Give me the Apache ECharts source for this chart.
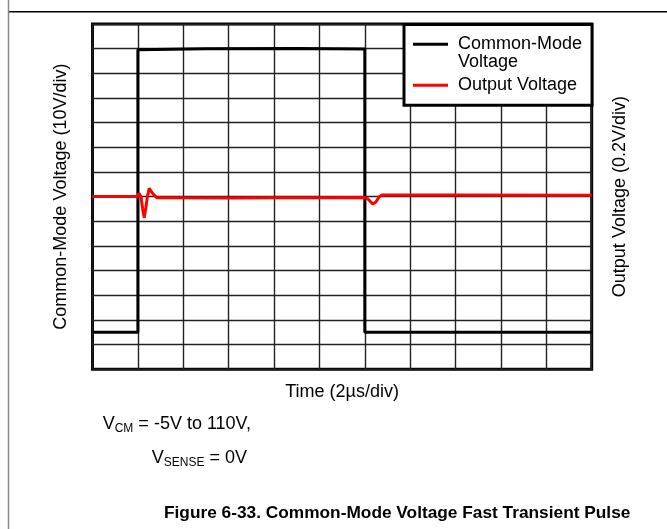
<!DOCTYPE html>
<html><head><meta charset="utf-8">
<script src="https://cdn.jsdelivr.net/npm/echarts@6/dist/echarts.min.js"></script>
<style>html,body{margin:0;padding:0;background:#fff}#c{width:667px;height:529px}</style>
</head><body><div id="c"></div>
<script>
// Common-mode voltage (left axis, V) vs time (µs)
const cmTimeUs = [0, 2, 2, 5, 9, 12, 12, 22];
const cmVolts  = [-5, -5, 109.6, 110, 110.1, 109.9, -5, -5];
// Output voltage (right axis, V) vs time (µs)
const outTimeUs = [0, 2.0, 2.05, 2.14, 2.21, 2.28, 2.35, 2.42, 2.50, 2.62, 2.83, 4, 6, 8, 10, 12.0, 12.05, 12.14, 12.35, 12.49, 12.63, 12.75, 16, 22];
const outVolts  = [0, 0, 0.027, -0.003, -0.10, -0.171, -0.09, 0.0, 0.067, 0.033, -0.009, -0.010, -0.011, -0.010, -0.009, -0.008, -0.007, -0.019, -0.060, -0.044, -0.003, 0.013, 0.012, 0.011];
// Axis scales (divisions)
const timeAxis = {min: 0, max: 22, step: 2};
const cmAxis = {min: -20, max: 120, step: 10};
const outAxis = {min: -1.4, max: 1.4, step: 0.2};
const seriesNames = ['Common-Mode Voltage', 'Output Voltage'];

const FONT = "'Liberation Sans', Arial, sans-serif";
const zip = (a, b) => a.map((v, i) => [v, b[i]]);

const chart = echarts.init(document.getElementById('c'), null, {renderer: 'canvas'});
chart.setOption({
  animation: false,
  backgroundColor: '#fff',
  textStyle: {fontFamily: FONT},
  grid: {left: 92.5, top: 24, right: 75.3, bottom: 159.8, show: true, borderColor: '#000', borderWidth: 3, backgroundColor: 'transparent'},
  xAxis: {
    type: 'value', min: timeAxis.min, max: timeAxis.max, interval: timeAxis.step,
    axisLabel: {show: false}, axisTick: {show: false}, axisLine: {show: false},
    splitLine: {show: true, lineStyle: {color: '#222', width: 1.4}},
    name: 'Time (2µs/div)', nameLocation: 'middle', nameGap: 14,
    nameTextStyle: {fontSize: 18, color: '#000', fontFamily: FONT}
  },
  yAxis: [{
    type: 'value', min: cmAxis.min, max: cmAxis.max, interval: cmAxis.step, position: 'left',
    axisLabel: {show: false}, axisTick: {show: false}, axisLine: {show: false},
    splitLine: {show: true, lineStyle: {color: '#222', width: 1.4}},
    name: 'Common-Mode Voltage (10V/div)', nameLocation: 'middle', nameGap: 22.5, nameRotate: 90,
    nameTextStyle: {fontSize: 18, color: '#000', fontFamily: FONT}
  }, {
    type: 'value', min: outAxis.min, max: outAxis.max, interval: outAxis.step, position: 'right',
    axisLabel: {show: false}, axisTick: {show: false}, axisLine: {show: false},
    splitLine: {show: false},
    name: 'Output Voltage (0.2V/div)', nameLocation: 'middle', nameGap: 19.5, nameRotate: 90,
    nameTextStyle: {fontSize: 18, color: '#000', fontFamily: FONT}
  }],
  legend: {
    orient: 'vertical', left: 404, top: 24.5,
    padding: [-7.2, 10, 11, 9], itemGap: 5,
    backgroundColor: '#fff', borderColor: '#000', borderWidth: 3,
    icon: 'rect', itemWidth: 35, itemHeight: 3,
    textStyle: {fontSize: 18, lineHeight: 18, color: '#000', fontFamily: FONT, padding: [0, 0, 0, 5]},
    formatter: n => n === seriesNames[0] ? '\nCommon-Mode\nVoltage' : n,
    data: [seriesNames[0], seriesNames[1]]
  },
  title: [{
    text: '{v|V}{s|CM}{v| = -5V to 110V,}', left: 102.7, top: 413, padding: 0,
    textStyle: {fontWeight: 'normal', fontSize: 18, fontFamily: FONT, color: '#000',
      rich: {v: {fontSize: 18, lineHeight: 22, fontFamily: FONT, color: '#000'},
             s: {fontSize: 12, lineHeight: 12, verticalAlign: 'bottom', fontFamily: FONT, color: '#000'}}}
  }, {
    text: '{v|V}{s|SENSE}{v| = 0V}', left: 151.7, top: 447, padding: 0,
    textStyle: {fontWeight: 'normal', fontSize: 18, fontFamily: FONT, color: '#000',
      rich: {v: {fontSize: 18, lineHeight: 22, fontFamily: FONT, color: '#000'},
             s: {fontSize: 12, lineHeight: 12, verticalAlign: 'bottom', fontFamily: FONT, color: '#000'}}}
  }, {
    text: 'Figure 6-33. Common-Mode Voltage Fast Transient Pulse', left: 164, top: 503, padding: 0,
    textStyle: {fontWeight: 'bold', fontSize: 17.3, lineHeight: 20, fontFamily: FONT, color: '#000'}
  }],
  graphic: [
    {type: 'line', shape: {x1: 8.5, y1: 11.7, x2: 667, y2: 11.7}, style: {stroke: '#000', lineWidth: 1.5}, silent: true},
    {type: 'line', shape: {x1: 8.5, y1: 0, x2: 8.5, y2: 529}, style: {stroke: '#888', lineWidth: 1.5}, silent: true}
  ],
  series: [{
    name: seriesNames[0], type: 'line', yAxisIndex: 0, data: zip(cmTimeUs, cmVolts),
    showSymbol: false, symbol: 'none', color: '#000',
    lineStyle: {color: '#000', width: 3}, itemStyle: {color: '#000'}, z: 3
  }, {
    name: seriesNames[1], type: 'line', yAxisIndex: 1, data: zip(outTimeUs, outVolts),
    showSymbol: false, symbol: 'none', color: '#f00',
    lineStyle: {color: '#f00', width: 3}, itemStyle: {color: '#f00'}, z: 4
  }]
});
</script></body></html>
